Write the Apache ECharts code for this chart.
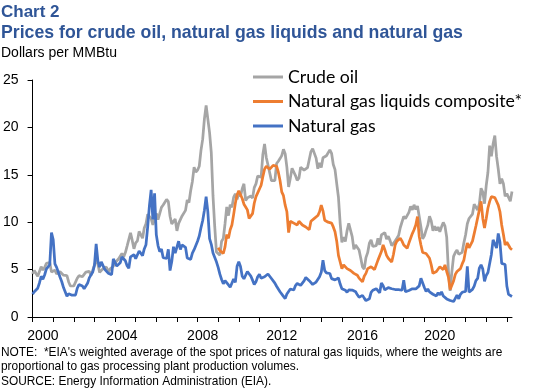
<!DOCTYPE html>
<html>
<head>
<meta charset="utf-8">
<script src="https://cdn.jsdelivr.net/npm/echarts@6/dist/echarts.min.js"></script>
<style>
html,body{margin:0;padding:0;background:#fff;}
#chart{width:539px;height:391px;}
</style>
</head>
<body>
<div id="chart"></div>
<script>
// ---- Data (monthly, Jan 2000 – Apr 2023), dollars per MMBtu ----
const startYear = 2000;
const crudeOil = [
  4.54,4.90,4.97,4.29,4.80,5.30,4.95,5.21,5.65,5.52,5.74,4.74,
  4.93,4.94,4.54,4.58,4.77,4.60,4.41,4.56,4.37,3.70,3.27,3.23,
  3.29,3.45,4.09,4.36,4.51,4.25,4.50,4.73,4.94,4.81,4.39,4.91,
  5.49,5.97,5.59,4.70,4.69,5.11,5.13,5.26,4.72,5.06,5.19,5.36,
  5.72,5.78,6.12,6.13,6.71,6.34,6.80,7.48,7.66,8.88,8.08,7.19,
  7.81,8.03,9.03,8.83,8.31,9.39,9.83,10.83,10.93,10.38,9.72,9.90,
  10.92,10.27,10.45,11.57,11.81,11.83,12.40,12.17,10.63,9.82,9.85,10.33,
  9.09,9.88,10.07,10.66,10.58,11.25,12.35,12.06,13.32,14.30,15.80,15.28,
  15.50,15.90,17.58,18.76,20.90,22.31,22.23,19.45,17.35,12.77,9.55,6.85,
  6.95,6.52,7.99,8.28,9.84,11.61,10.69,11.84,11.57,12.62,13.00,12.41,
  13.06,12.73,13.53,14.05,12.29,12.56,12.72,12.77,12.54,13.65,14.04,14.86,
  14.86,14.76,17.14,18.26,16.82,16.04,16.22,14.39,14.25,14.39,16.19,16.43,
  16.71,17.03,17.69,17.22,15.78,13.72,14.65,15.69,15.75,14.92,14.42,14.64,
  15.79,15.89,15.49,15.34,15.75,15.96,17.45,17.76,17.72,16.76,15.64,16.27,
  15.77,16.80,16.80,17.01,17.03,17.63,17.27,16.09,15.54,14.07,12.63,9.88,
  7.87,8.43,7.97,9.08,9.88,9.97,8.48,7.15,7.58,7.70,7.07,6.20,
  5.28,5.05,6.26,6.79,7.79,8.13,7.44,7.45,7.53,8.30,7.61,8.66,
  8.75,8.91,8.22,8.51,8.08,7.53,7.77,8.01,8.30,8.60,9.44,9.65,
  10.62,10.37,10.46,11.04,11.66,11.31,11.83,11.34,11.71,11.79,9.49,8.25,
  8.56,9.16,9.69,10.64,10.14,9.11,9.56,9.14,9.49,8.99,9.51,9.98,
  9.59,8.42,4.87,2.76,4.76,6.39,6.79,7.06,6.61,6.57,6.82,7.84,
  8.67,9.84,10.39,10.29,10.86,11.90,12.08,11.29,11.94,13.58,13.19,11.95,
  13.87,15.27,18.08,16.96,18.26,19.14,16.94,15.61,14.04,14.59,14.06,12.74,
  13.02,12.81,12.21,13.24
];
// NGL composite starts Jan 2009
const nglStart = '2009-01';
const nglComposite = [
  7.3,7.0,6.8,6.7,7.4,8.7,8.3,9.2,9.7,10.8,12.0,12.9,
  13.3,13.1,12.5,11.9,11.6,11.3,10.4,10.2,10.9,12.0,12.7,13.1,
  13.2,13.9,14.8,15.6,15.9,15.8,15.6,15.7,16.0,15.8,15.9,15.3,
  14.4,13.2,12.8,11.8,11.1,8.9,10.1,10.2,9.9,10.1,9.7,10.1,
  9.9,9.7,9.8,9.5,9.6,9.2,10.1,10.2,10.4,10.5,10.7,11.1,
  11.8,11.2,10.2,10.1,10.0,10.0,9.9,9.5,9.0,8.0,6.5,5.8,
  5.1,5.5,5.5,5.1,5.0,4.9,5.0,4.6,4.8,4.4,4.1,4.1,
  3.7,4.3,4.6,5.1,5.0,5.3,5.5,5.0,5.5,6.0,6.2,6.9,
  7.6,7.1,6.5,6.2,6.0,5.8,6.6,7.6,8.0,8.1,8.3,8.0,
  7.6,7.4,7.25,7.8,8.3,8.8,9.2,9.7,10.6,8.5,7.6,6.8,
  6.7,6.7,6.6,6.2,5.5,4.6,4.5,4.8,5.0,5.3,5.3,5.0,
  5.5,4.8,4.2,2.9,3.0,3.8,4.5,4.8,5.0,5.1,5.6,6.0,
  7.0,7.8,7.3,7.2,8.0,8.8,9.6,9.7,11.3,12.2,10.4,9.4,
  10.4,11.5,12.2,12.7,12.7,12.6,12.4,11.8,11.1,9.7,8.7,7.6,
  7.9,7.7,7.25,7.1
];
const naturalGas = [
  2.42,2.66,2.79,3.04,3.59,4.29,3.99,4.43,5.06,5.02,5.52,8.90,
  8.17,5.61,5.23,5.19,4.19,3.72,3.11,2.97,2.19,2.46,2.34,2.30,
  2.32,2.32,3.03,3.43,3.50,3.26,2.99,3.09,3.55,4.13,4.04,4.74,
  5.43,7.71,5.93,5.26,5.81,5.82,5.03,4.99,4.62,4.63,4.47,6.13,
  6.14,5.37,5.39,5.71,6.33,6.27,5.93,5.41,5.15,6.35,6.17,6.58,
  6.15,6.14,6.96,7.16,6.47,7.18,7.63,9.53,11.75,13.42,10.30,13.05,
  8.69,7.54,6.89,7.16,6.25,6.21,6.17,7.14,4.90,5.85,7.41,6.73,
  6.55,8.00,7.11,7.60,7.64,7.35,6.22,6.22,6.08,6.74,7.10,7.11,
  7.99,8.54,9.41,10.18,11.27,12.69,11.09,8.26,7.67,6.74,6.68,5.82,
  5.24,4.52,3.96,3.50,3.83,3.80,3.38,3.14,2.99,4.01,3.66,5.35,
  5.83,5.32,4.29,4.03,4.14,4.80,4.63,4.32,3.89,3.43,3.71,4.25,
  4.49,4.09,3.97,4.24,4.31,4.54,4.42,4.06,3.90,3.57,3.24,3.17,
  2.67,2.50,2.17,1.95,2.43,2.46,2.95,2.84,2.85,3.32,3.54,3.34,
  3.33,3.33,3.81,4.17,4.04,3.83,3.62,3.43,3.62,3.68,3.64,4.24,
  4.71,6.00,4.90,4.66,4.58,4.59,4.05,3.91,3.92,3.78,4.12,3.48,
  2.99,2.87,2.83,2.61,2.85,2.78,2.84,2.77,2.66,2.34,2.09,1.93,
  2.28,1.99,1.73,1.92,1.92,2.59,2.82,2.82,2.99,2.98,2.55,3.59,
  3.30,2.85,2.88,3.10,3.15,2.98,2.98,2.90,2.98,2.88,3.01,2.82,
  3.87,2.67,2.69,2.80,2.80,2.97,2.83,2.96,3.00,3.28,4.09,4.04,
  3.11,2.69,2.95,2.65,2.64,2.40,2.37,2.22,2.56,2.33,2.65,2.22,
  2.02,1.91,1.79,1.74,1.75,1.63,1.77,2.30,1.92,2.39,2.61,2.59,
  2.71,5.35,2.62,2.66,2.91,3.26,3.84,4.07,5.16,5.51,5.05,3.76,
  4.38,4.69,4.90,6.60,8.14,7.70,7.28,8.81,7.88,5.66,5.45,5.53,
  3.27,2.38,2.31,2.16
];
const xTickLabels = ['2000','2004','2008','2012','2016','2020'];
const yTicks = [0, 5, 10, 15, 20, 25];
const seriesNames = ['Crude oil', 'Natural gas liquids composite*', 'Natural gas'];

// ---- Build categories (months) ----
const months = [];
for (let i = 0; i < crudeOil.length; i++) {
  const y = startYear + Math.floor(i / 12);
  const m = (i % 12) + 1;
  months.push(y + '-' + (m < 10 ? '0' + m : m));
}
const nglOffset = months.indexOf(nglStart);
const nglSeries = months.map((_, i) => (i >= nglOffset ? nglComposite[i - nglOffset] : null));

// label anchor months (where the reference places each year label)
const labelAnchors = ['2000-07', '2004-05', '2008-04', '2012-02', '2016-01', '2019-10'];
const labelIdx = {};
labelAnchors.forEach((a, k) => { labelIdx[months.indexOf(a)] = xTickLabels[k]; });

const font = '"Liberation Sans", Arial, sans-serif';
const chart = echarts.init(document.getElementById('chart'), null, { renderer: 'canvas' });
chart.setOption({
  animation: false,
  backgroundColor: '#ffffff',
  title: [
    { text: 'Chart 2', left: 1, top: 4, padding: 0,
      textStyle: { fontFamily: font, fontSize: 17, fontWeight: 'bold', color: '#2f5597' } },
    { text: 'Prices for crude oil, natural gas liquids and natural gas', left: 1, top: 24, padding: 0,
      textStyle: { fontFamily: font, fontSize: 17.7, fontWeight: 'bold', color: '#2f5597' } },
    { text: 'Dollars per MMBtu', left: 1, top: 46, padding: 0,
      textStyle: { fontFamily: font, fontSize: 14, fontWeight: 'normal', color: '#000' } },
    { text: 'NOTE:  *EIA\'s weighted average of the spot prices of natural gas liquids, where the weights are\nproportional to gas processing plant production volumes.\nSOURCE: Energy Information Administration (EIA).',
      left: 1, top: 345, padding: 0,
      textStyle: { fontFamily: font, fontSize: 11.9, fontWeight: 'normal', color: '#000', lineHeight: 14.5 } }
  ],
  legend: {
    orient: 'vertical',
    left: 253, top: 68, padding: 0,
    icon: 'rect',
    itemWidth: 30, itemHeight: 3, itemGap: 6.5,
    data: seriesNames,
    textStyle: { fontFamily: 'Lato, "Open Sans", sans-serif', fontSize: 17.7, color: '#000' }
  },
  grid: { left: 32, right: 27, top: 80, bottom: 74, containLabel: false },
  xAxis: {
    type: 'category',
    data: months,
    boundaryGap: false,
    axisLine: { show: true, lineStyle: { color: '#000', width: 1 } },
    axisTick: { show: true, length: 5, interval: (idx) => idx % 12 === 0, lineStyle: { color: '#000' } },
    axisLabel: {
      interval: (idx) => labelIdx[idx] !== undefined,
      formatter: (v, idx) => labelIdx[idx] || '',
      fontFamily: font, fontSize: 14, color: '#000', margin: 12.5
    },
    splitLine: { show: false }
  },
  yAxis: {
    type: 'value',
    min: yTicks[0], max: yTicks[yTicks.length - 1], interval: yTicks[1] - yTicks[0],
    axisLine: { show: true, lineStyle: { color: '#000', width: 1 } },
    axisTick: { show: true, length: 5, lineStyle: { color: '#000' } },
    axisLabel: { fontFamily: font, fontSize: 14, color: '#000', margin: 14 },
    splitLine: { show: false }
  },
  series: [
    { name: seriesNames[0], type: 'line', data: crudeOil, symbol: 'none', connectNulls: false,
      lineStyle: { color: '#a5a5a5', width: 2.75 }, itemStyle: { color: '#a5a5a5' } },
    { name: seriesNames[1], type: 'line', data: nglSeries, symbol: 'none', connectNulls: false,
      lineStyle: { color: '#ed7d31', width: 2.75 }, itemStyle: { color: '#ed7d31' } },
    { name: seriesNames[2], type: 'line', data: naturalGas, symbol: 'none',
      lineStyle: { color: '#4472c4', width: 2.75 }, itemStyle: { color: '#4472c4' } }
  ]
});
</script>
</body>
</html>
